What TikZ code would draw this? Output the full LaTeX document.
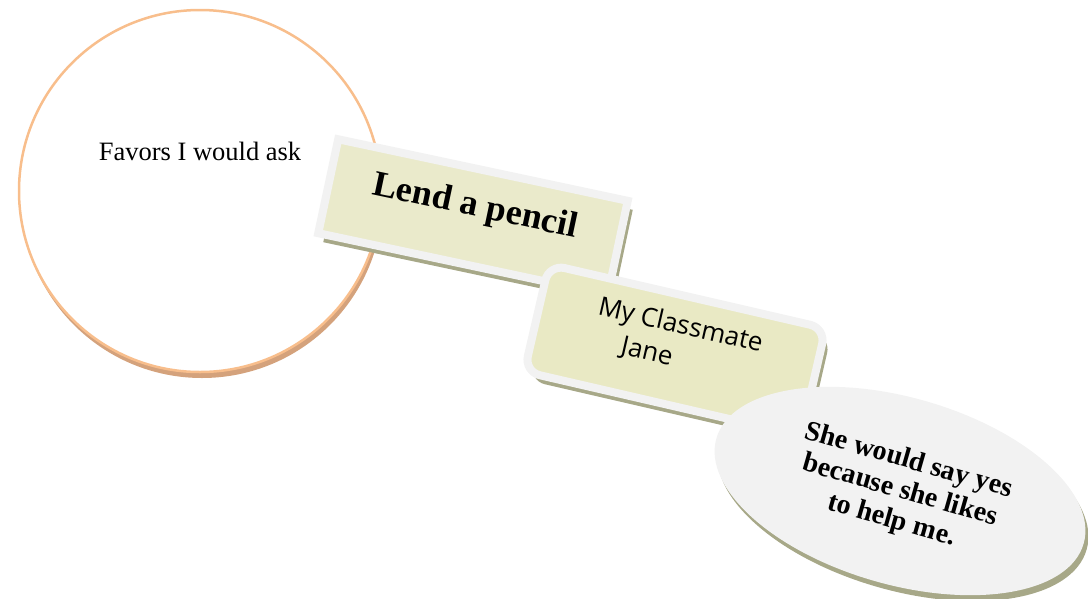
\documentclass[tikz,border=0pt]{standalone}
\usepackage{fontspec}
\setmainfont{Liberation Serif}
\newfontfamily\segoe{Open Sans}
\usepackage{tikz}
\usetikzlibrary{shapes,shadows}
\usepackage{xcolor}
\definecolor{fvorange}{RGB}{248,190,140}
\definecolor{fvshade}{RGB}{212,162,124}
\definecolor{fvolive}{RGB}{167,168,136}
\definecolor{fvcream}{RGB}{234,234,203}
\definecolor{fvyellow}{RGB}{233,233,196}
\definecolor{fvgray}{RGB}{242,242,242}
\tikzstyle{topic} = [circle, minimum size=362pt, draw=fvorange, line width=2.5pt, fill=white, drop shadow={shadow xshift=2pt, shadow yshift=-6pt, fill=fvshade, opacity=1}]
\tikzstyle{favor} = [rectangle, minimum width=296pt, minimum height=96pt, draw=fvgray, line width=8pt, fill=fvcream, drop shadow={shadow xshift=5pt, shadow yshift=-9pt, fill=fvolive, opacity=1}]
\tikzstyle{helper} = [favor, rounded corners=16pt, minimum width=284pt, minimum height=110pt, fill=fvyellow]
\tikzstyle{reply} = [ellipse, minimum width=382pt, minimum height=187pt, fill=fvgray, draw=none, drop shadow={shadow xshift=3pt, shadow yshift=-6pt, fill=fvolive, opacity=1}]

\begin{document}
\begin{tikzpicture}[x=1pt, y=-1pt]
\useasboundingbox (0,0) rectangle (1088,598);
% Topic circle
\node (favors) [topic, text height=18pt, text depth=80pt, font=\fontsize{26.5}{30}\selectfont] at (200,191) {Favors I would ask};

% Favor, person, answer
\node (pencil) [favor, rotate=-12, text depth=27pt, font=\fontsize{36}{40}\selectfont\bfseries] at (473,217) {Lend a pencil};
\node (jane) [helper, rotate=-13, align=left, font=\segoe\fontsize{26}{33}\selectfont] at (675,350) {My Classmate\\\hspace*{1.2em}Jane\\[-12pt]{}};
\node (answer) [reply, rotate=-16, align=center, font=\fontsize{28}{31}\selectfont\bfseries] at (900,491) {She would say yes\\because she likes\\to help me.};
\end{tikzpicture}
\end{document}
